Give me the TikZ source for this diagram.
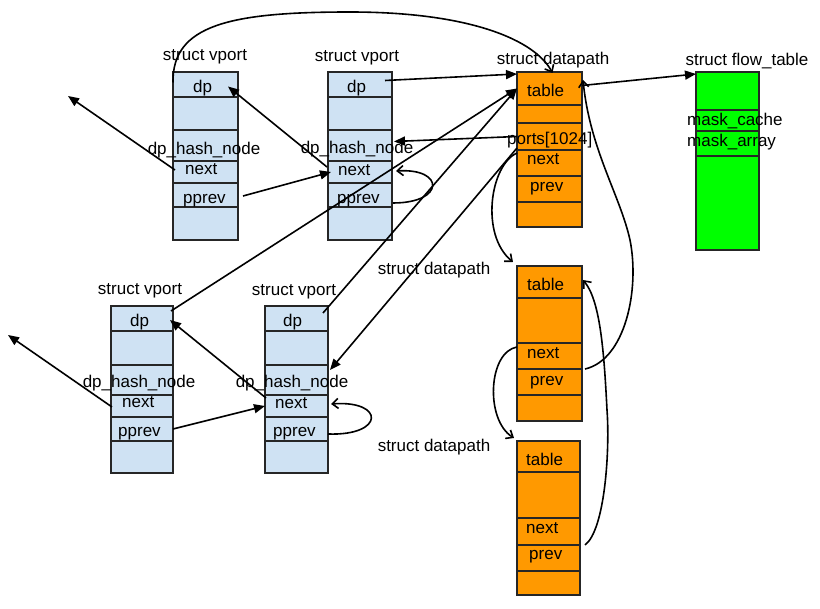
\documentclass[tikz,border=0pt]{standalone}
\usepackage{fontspec}
\setmainfont{Liberation Sans}
\usetikzlibrary{arrows.meta,calc}
\definecolor{vblue}{HTML}{CFE2F3}
\definecolor{dorange}{HTML}{FF9900}
\definecolor{fgreen}{HTML}{00FF00}
\tikzset{
  cell/.style={draw=black!85, line width=1.3pt, inner sep=0pt, outer sep=0pt, anchor=north west},
  vcell/.style={cell, fill=vblue},
  dcell/.style={cell, fill=dorange},
  fcell/.style={cell, fill=fgreen},
  lbl/.style={inner sep=0pt, font=\fontsize{17}{20}\selectfont, anchor=base west},
  lblc/.style={lbl, anchor=base},
  ptr/.style={line width=1.6pt, -{Triangle[length=11pt,width=9pt]}},
  cptr/.style={line width=1.6pt, -{Straight Barb[length=6pt,width=10pt]}},
}
\begin{document}
\begin{tikzpicture}[x=1pt,y=-1pt]
\useasboundingbox (0,0) rectangle (820,609);
\fill[white] (0,0) rectangle (820,609);

% ---- vport 1 (top left)
\node[vcell, minimum width=65pt, minimum height=25pt] (v1dp) at (173,72) {};
\node[vcell, minimum width=65pt, minimum height=33pt] (v1e1) at (173,97) {};
\node[vcell, minimum width=65pt, minimum height=31pt] (v1hash) at (173,130) {};
\node[vcell, minimum width=65pt, minimum height=22pt] (v1next) at (173,161) {};
\node[vcell, minimum width=65pt, minimum height=24pt] (v1pprev) at (173,183) {};
\node[vcell, minimum width=65pt, minimum height=33pt] (v1e2) at (173,207) {};
% ---- vport 2 (top)
\node[vcell, minimum width=64pt, minimum height=25pt] (v2dp) at (328,72) {};
\node[vcell, minimum width=64pt, minimum height=33pt] (v2e1) at (328,97) {};
\node[vcell, minimum width=64pt, minimum height=31pt] (v2hash) at (328,130) {};
\node[vcell, minimum width=64pt, minimum height=22pt] (v2next) at (328,161) {};
\node[vcell, minimum width=64pt, minimum height=24pt] (v2pprev) at (328,183) {};
\node[vcell, minimum width=64pt, minimum height=33pt] (v2e2) at (328,207) {};
% ---- vport 3 (bottom left)
\node[vcell, minimum width=62pt, minimum height=25pt] (v3dp) at (111,306) {};
\node[vcell, minimum width=62pt, minimum height=34pt] (v3e1) at (111,331) {};
\node[vcell, minimum width=62pt, minimum height=30pt] (v3hash) at (111,365) {};
\node[vcell, minimum width=62pt, minimum height=22pt] (v3next) at (111,395) {};
\node[vcell, minimum width=62pt, minimum height=24pt] (v3pprev) at (111,417) {};
\node[vcell, minimum width=62pt, minimum height=32pt] (v3e2) at (111,441) {};
% ---- vport 4 (bottom)
\node[vcell, minimum width=63pt, minimum height=25pt] (v4dp) at (265,306) {};
\node[vcell, minimum width=63pt, minimum height=34pt] (v4e1) at (265,331) {};
\node[vcell, minimum width=63pt, minimum height=30pt] (v4hash) at (265,365) {};
\node[vcell, minimum width=63pt, minimum height=22pt] (v4next) at (265,395) {};
\node[vcell, minimum width=63pt, minimum height=24pt] (v4pprev) at (265,417) {};
\node[vcell, minimum width=63pt, minimum height=32pt] (v4e2) at (265,441) {};
% ---- datapath 1
\node[dcell, minimum width=65pt, minimum height=33pt] (d1table) at (517,72) {};
\node[dcell, minimum width=65pt, minimum height=18pt] (d1e1) at (517,105) {};
\node[dcell, minimum width=65pt, minimum height=27pt] (d1ports) at (517,123) {};
\node[dcell, minimum width=65pt, minimum height=26pt] (d1next) at (517,150) {};
\node[dcell, minimum width=65pt, minimum height=26pt] (d1prev) at (517,176) {};
\node[dcell, minimum width=65pt, minimum height=25pt] (d1e2) at (517,202) {};
% ---- datapath 2
\node[dcell, minimum width=65pt, minimum height=32pt] (d2table) at (517,266) {};
\node[dcell, minimum width=65pt, minimum height=45pt] (d2e1) at (517,298) {};
\node[dcell, minimum width=65pt, minimum height=26pt] (d2next) at (517,343) {};
\node[dcell, minimum width=65pt, minimum height=26pt] (d2prev) at (517,369) {};
\node[dcell, minimum width=65pt, minimum height=26pt] (d2e2) at (517,395) {};
% ---- datapath 3
\node[dcell, minimum width=63pt, minimum height=31pt] (d3table) at (517,441) {};
\node[dcell, minimum width=63pt, minimum height=46pt] (d3e1) at (517,472) {};
\node[dcell, minimum width=63pt, minimum height=27pt] (d3next) at (517,518) {};
\node[dcell, minimum width=63pt, minimum height=26pt] (d3prev) at (517,545) {};
\node[dcell, minimum width=63pt, minimum height=24pt] (d3e2) at (517,571) {};
% ---- flow table
\node[fcell, minimum width=63pt, minimum height=38pt] (ft1) at (696,72) {};
\node[fcell, minimum width=63pt, minimum height=21pt] (ft2) at (696,110) {};
\node[fcell, minimum width=63pt, minimum height=25pt] (ft3) at (696,131) {};
\node[fcell, minimum width=63pt, minimum height=94pt] (ft4) at (696,156) {};

% ---- labels
\node[lblc] (v1title) at (205,61) {struct vport};
\node[lbl] (v1dpt) at (193,93) {dp};
\node[lblc] (v1hasht) at (204,155) {dp\_hash\_node};
\node[lbl] (v1nextt) at (185,175) {next};
\node[lbl] (v1pprevt) at (183,204) {pprev};

\node[lblc] (v2title) at (357,62) {struct vport};
\node[lbl] (v2dpt) at (347,93) {dp};
\node[lblc] (v2hasht) at (357,154) {dp\_hash\_node};
\node[lbl] (v2nextt) at (338,176) {next};
\node[lbl] (v2pprevt) at (337,204) {pprev};

\node[lblc] (v3title) at (140,295) {struct vport};
\node[lbl] (v3dpt) at (130,327) {dp};
\node[lblc] (v3hasht) at (139,388) {dp\_hash\_node};
\node[lbl] (v3nextt) at (122,408) {next};
\node[lbl] (v3pprevt) at (118,437) {pprev};

\node[lblc] (v4title) at (294,296) {struct vport};
\node[lbl] (v4dpt) at (283,327) {dp};
\node[lblc] (v4hasht) at (292,388) {dp\_hash\_node};
\node[lbl] (v4nextt) at (275,409) {next};
\node[lbl] (v4pprevt) at (273,437) {pprev};

\node[lblc] (d1title) at (553,65) {struct datapath};
\node[lbl] (d1tablet) at (527,97) {table};
\node[lbl] (d1portst) at (507,145) {ports[1024]};
\node[lbl] (d1nextt) at (527,165) {next};
\node[lbl] (d1prevt) at (530,192) {prev};

\node[lblc] (d2title) at (434,275) {struct datapath};
\node[lbl] (d2tablet) at (527,291) {table};
\node[lbl] (d2nextt) at (527,359) {next};
\node[lbl] (d2prevt) at (530,386) {prev};

\node[lblc] (d3title) at (434,452) {struct datapath};
\node[lbl] (d3tablet) at (526,466) {table};
\node[lbl] (d3nextt) at (526,534) {next};
\node[lbl] (d3prevt) at (529,560) {prev};

\node[lblc] (fttitle) at (747,66) {struct flow\_table};
\node[lbl] (ftcache) at (687,126) {mask\_cache};
\node[lbl] (ftarray) at (687,147) {mask\_array};

% ---- free ends
\coordinate (nw1) at (68,96);
\coordinate (nw3) at (8,335);

% ---- connectors
\draw[cptr] ($(v1dp.west)+(0,-2)$) .. controls (172,25) and (230,12) .. (350,12)
  .. controls (470,12) and (535,40) .. ($(d1table.north)+(3,1)$);
\draw[ptr] ($(v1next.west)+(2,-2)$) -- (nw1);
\draw[ptr] ($(v1pprev.east)+(5,1)$) -- ($(v2next.west)+(3,0)$);
\draw[ptr] ($(v2next.north west)+(-1,6)$) -- ($(v1dp.east)+(-10,2)$);
\draw[cptr] ($(v2pprev.east)+(1,8)$) .. controls (445,203) and (445,168) .. ($(v2next.east)+(4,-1)$);
\draw[ptr] ($(v2dp.east)+(-7,-4)$) -- ($(d1table.north west)+(0,2)$);
\draw[ptr] (d1ports.west) -- ($(v2hash.east)+(2,-4)$);
\draw[ptr] ($(v3dp.north east)+(-2,5)$) -- (d1table.west);
\draw[ptr] ($(v4dp.north east)+(-5,7)$) -- (d1table.west);
\draw[ptr] ($(d1ports.south west)+(0,-2)$) -- ($(v4hash.north east)+(2,5)$);
\draw[ptr] ($(v3next.west)+(1,1)$) -- (nw3);
\draw[ptr] (v3pprev.east) -- (v4next.west);
\draw[ptr] ($(v4next.north west)+(1,3)$) -- ($(v3dp.east)+(-3,1.5)$);
\draw[cptr] ($(v4pprev.east)+(0,5)$) .. controls (385,436) and (385,400) .. ($(v4next.east)+(3,-2)$);
\draw[ptr] ($(d1table.east)+(0,-3)$) -- ($(ft1.north west)+(0,2)$);
\draw[cptr] ($(d2prev.north east)+(3,0)$) .. controls (625,360) and (640,290) .. (630,240)
  .. controls (620,195) and (590,150) .. ($(d1table.north east)+(1,8)$);
\draw[cptr] ($(d3prev.north east)+(5,0)$) .. controls (605,530) and (610,450) .. (607,410)
  .. controls (604,350) and (600,300) .. ($(d2table.east)+(1,-2)$);
\draw[cptr] ($(d2next.north west)+(0,4)$) .. controls (488,352) and (485,420) .. ($(d3table.north west)+(-3,-3)$);
\draw[cptr] ($(d1next.north west)+(0,3)$) .. controls (490,165) and (480,235) .. ($(d2table.north west)+(-4,-4)$);
\end{tikzpicture}
\end{document}
